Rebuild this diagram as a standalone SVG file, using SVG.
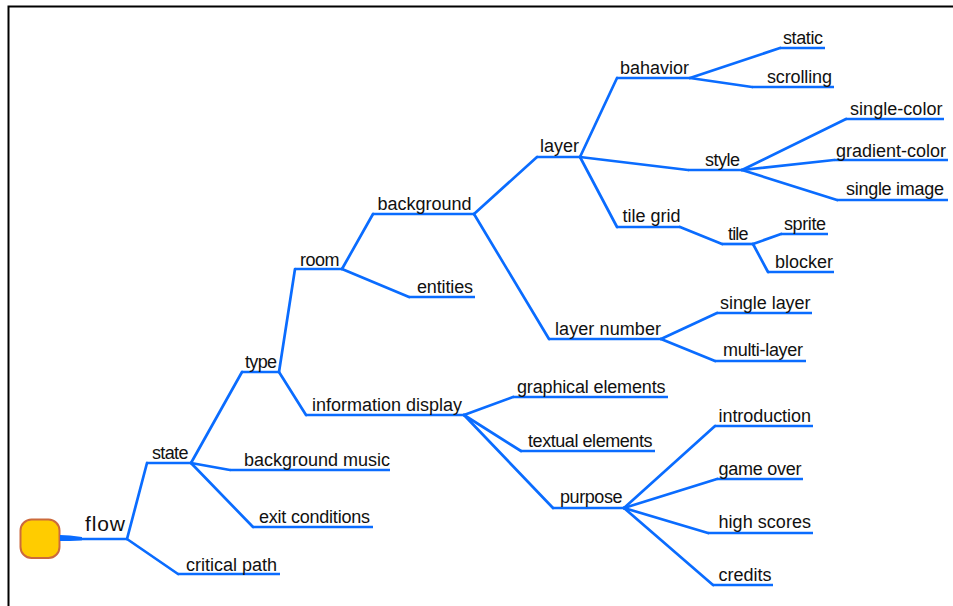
<svg xmlns="http://www.w3.org/2000/svg" width="953" height="606" viewBox="0 0 953 606">
<style>
.c{fill:none;stroke:#0a6cff;stroke-width:2.7;stroke-linecap:round;stroke-linejoin:round}
.u{fill:none;stroke:#0a6cff;stroke-width:2.7;stroke-linecap:butt}
text{font-family:"Liberation Sans",Arial,sans-serif;font-size:18px;fill:#111}
</style>
<rect x="0" y="0" width="953" height="606" fill="#ffffff"/>
<path d="M8.5 606 V6.5 H953" fill="none" stroke="#000" stroke-width="2"/>
<g id="connectors">
<line class="c" x1="127" y1="539" x2="147" y2="463"/>
<line class="c" x1="127" y1="539" x2="178" y2="574"/>
<line class="c" x1="191" y1="463" x2="242" y2="372"/>
<line class="c" x1="191" y1="463" x2="230" y2="470"/>
<line class="c" x1="191" y1="463" x2="253" y2="527"/>
<line class="c" x1="279" y1="372" x2="295" y2="269"/>
<line class="c" x1="279" y1="372" x2="306" y2="415"/>
<line class="c" x1="342" y1="269" x2="373" y2="214"/>
<line class="c" x1="342" y1="269" x2="409" y2="297"/>
<line class="c" x1="464" y1="415" x2="513" y2="397"/>
<line class="c" x1="464" y1="415" x2="521" y2="451"/>
<line class="c" x1="464" y1="415" x2="553" y2="508"/>
<line class="c" x1="474" y1="214" x2="537" y2="157"/>
<line class="c" x1="474" y1="214" x2="549" y2="339"/>
<line class="c" x1="580" y1="157" x2="617" y2="78"/>
<line class="c" x1="580" y1="157" x2="688" y2="170"/>
<line class="c" x1="580" y1="157" x2="617" y2="227"/>
<line class="c" x1="690" y1="78" x2="780" y2="48"/>
<line class="c" x1="690" y1="78" x2="752" y2="87"/>
<line class="c" x1="742" y1="170" x2="846" y2="119"/>
<line class="c" x1="742" y1="170" x2="834" y2="160"/>
<line class="c" x1="742" y1="170" x2="837" y2="200"/>
<line class="c" x1="680" y1="227" x2="722" y2="244"/>
<line class="c" x1="753" y1="244" x2="781" y2="234"/>
<line class="c" x1="753" y1="244" x2="768" y2="272"/>
<line class="c" x1="661" y1="339" x2="717" y2="313"/>
<line class="c" x1="661" y1="339" x2="715" y2="361"/>
<line class="c" x1="624" y1="508" x2="715" y2="426"/>
<line class="c" x1="624" y1="508" x2="717" y2="479"/>
<line class="c" x1="624" y1="508" x2="708" y2="533"/>
<line class="c" x1="624" y1="508" x2="713" y2="585"/>
</g>
<g id="root">
<rect x="20.5" y="519.5" width="39" height="38.5" rx="11" fill="#ffcc00" stroke="#cc6a3c" stroke-width="2"/>
<polygon points="60,535 70,535.5 82,537 82,540.5 70,541 60,541" fill="#0a6cff"/>
</g>
<g id="n-flow"><line class="u" x1="82" y1="539" x2="127" y2="539"/><text x="85" y="531" style="font-size:21px" textLength="40">flow</text></g>
<g id="n-state"><line class="u" x1="147" y1="463" x2="191" y2="463"/><text x="152" y="459" textLength="36.5">state</text></g>
<g id="n-critical-path"><line class="u" x1="178" y1="574" x2="280" y2="574"/><text x="186" y="570.5" textLength="91">critical path</text></g>
<g id="n-background-music"><line class="u" x1="230" y1="470" x2="390" y2="470"/><text x="244" y="466" textLength="146">background music</text></g>
<g id="n-exit-conditions"><line class="u" x1="253" y1="527" x2="373" y2="527"/><text x="259" y="523" textLength="111">exit conditions</text></g>
<g id="n-type"><line class="u" x1="242" y1="372" x2="279" y2="372"/><text x="245" y="368" textLength="32">type</text></g>
<g id="n-room"><line class="u" x1="295" y1="269" x2="342" y2="269"/><text x="300" y="265.5" textLength="39.5">room</text></g>
<g id="n-information-display"><line class="u" x1="306" y1="415" x2="464" y2="415"/><text x="312" y="410.5" textLength="150">information display</text></g>
<g id="n-background"><line class="u" x1="373" y1="214" x2="474" y2="214"/><text x="377.5" y="210" textLength="94">background</text></g>
<g id="n-entities"><line class="u" x1="409" y1="297" x2="475" y2="297"/><text x="417" y="293" textLength="56">entities</text></g>
<g id="n-layer"><line class="u" x1="537" y1="157" x2="580" y2="157"/><text x="540" y="152" textLength="39">layer</text></g>
<g id="n-layer-number"><line class="u" x1="549" y1="339" x2="661" y2="339"/><text x="555" y="335" textLength="106">layer number</text></g>
<g id="n-bahavior"><line class="u" x1="617" y1="78" x2="690" y2="78"/><text x="620" y="73.5" textLength="69">bahavior</text></g>
<g id="n-style"><line class="u" x1="688" y1="170" x2="742" y2="170"/><text x="705" y="165.5" textLength="35">style</text></g>
<g id="n-tile-grid"><line class="u" x1="617" y1="227" x2="680" y2="227"/><text x="622.5" y="222" textLength="58">tile grid</text></g>
<g id="n-static"><line class="u" x1="780" y1="48" x2="825" y2="48"/><text x="783" y="44" textLength="40">static</text></g>
<g id="n-scrolling"><line class="u" x1="752" y1="87" x2="834" y2="87"/><text x="767" y="82.5" textLength="65">scrolling</text></g>
<g id="n-single-color"><line class="u" x1="846" y1="119" x2="944" y2="119"/><text x="850" y="115" textLength="92.5">single-color</text></g>
<g id="n-gradient-color"><line class="u" x1="834" y1="160" x2="948" y2="160"/><text x="836" y="156.5" textLength="110">gradient-color</text></g>
<g id="n-single-image"><line class="u" x1="837" y1="200" x2="948" y2="200"/><text x="846" y="195" textLength="98">single image</text></g>
<g id="n-tile"><line class="u" x1="722" y1="244" x2="753" y2="244"/><text x="728" y="239.5" textLength="20.5">tile</text></g>
<g id="n-sprite"><line class="u" x1="781" y1="234" x2="828" y2="234"/><text x="784" y="230" textLength="42">sprite</text></g>
<g id="n-blocker"><line class="u" x1="768" y1="272" x2="834" y2="272"/><text x="775" y="268" textLength="58">blocker</text></g>
<g id="n-single-layer"><line class="u" x1="717" y1="313" x2="812" y2="313"/><text x="720" y="309" textLength="90.5">single layer</text></g>
<g id="n-multi-layer"><line class="u" x1="715" y1="361" x2="806" y2="361"/><text x="723" y="356" textLength="80">multi-layer</text></g>
<g id="n-graphical-elements"><line class="u" x1="513" y1="397" x2="668" y2="397"/><text x="517" y="392.5" textLength="148.5">graphical elements</text></g>
<g id="n-textual-elements"><line class="u" x1="521" y1="451" x2="655" y2="451"/><text x="528" y="446.5" textLength="124.5">textual elements</text></g>
<g id="n-purpose"><line class="u" x1="553" y1="508" x2="624" y2="508"/><text x="560" y="502.5" textLength="62.5">purpose</text></g>
<g id="n-introduction"><line class="u" x1="715" y1="426" x2="813" y2="426"/><text x="718.5" y="421.5" textLength="92.5">introduction</text></g>
<g id="n-game-over"><line class="u" x1="717" y1="479" x2="803" y2="479"/><text x="718.5" y="474.5" textLength="83">game over</text></g>
<g id="n-high-scores"><line class="u" x1="708" y1="533" x2="813" y2="533"/><text x="718.5" y="528" textLength="92.5">high scores</text></g>
<g id="n-credits"><line class="u" x1="713" y1="585" x2="773" y2="585"/><text x="718.5" y="581" textLength="53">credits</text></g>
</svg>
